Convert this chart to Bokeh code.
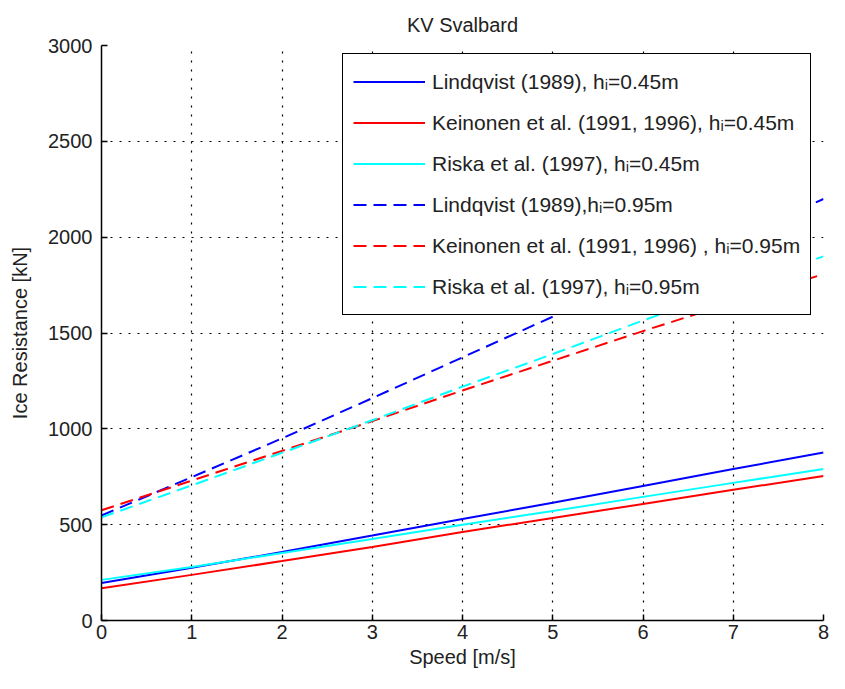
from bokeh.plotting import figure
from bokeh.models import Range1d, FixedTicker, Legend, LegendItem
from bokeh.embed import file_html
from bokeh.resources import INLINE

# ---- data ----
speed = [0, 1, 2, 3, 4, 5, 6, 7, 8]
lindqvist_045 = [196, 275, 357, 443, 530, 614, 702, 790, 876]
keinonen_045 = [168, 238, 310, 384, 462, 535, 608, 682, 754]
riska_045 = [212, 279, 352, 425, 500, 571, 645, 718, 791]
lindqvist_095 = [548, 748, 950, 1160, 1373, 1585, 1790, 1995, 2199]
keinonen_095 = [575, 730, 885, 1040, 1200, 1355, 1510, 1660, 1807]
riska_095 = [538, 705, 875, 1045, 1220, 1390, 1565, 1735, 1900]

x_ticks = [0, 1, 2, 3, 4, 5, 6, 7, 8]
y_ticks = [0, 500, 1000, 1500, 2000, 2500, 3000]

labels = [
    "Lindqvist (1989), h\u1d62=0.45m",
    "Keinonen et al. (1991, 1996), h\u1d62=0.45m",
    "Riska et al. (1997), h\u1d62=0.45m",
    "Lindqvist (1989),h\u1d62=0.95m",
    "Keinonen et al. (1991, 1996) , h\u1d62=0.95m",
    "Riska et al. (1997), h\u1d62=0.95m",
]

FONT = "Liberation Sans"

p = figure(width=829, height=673, output_backend="svg", toolbar_location=None,
           x_range=Range1d(0, 8), y_range=Range1d(0, 3000),
           min_border_left=101, min_border_right=6, min_border_top=45,
           min_border_bottom=53, title="KV Svalbard")
p.outline_line_color = None
p.background_fill_color = "white"
p.border_fill_color = "white"

p.title.align = "center"
p.title.text_font = FONT
p.title.text_font_size = "20px"
p.title.text_font_style = "normal"
p.title.text_color = "#222222"
p.title.standoff = 20

for ax in (p.xaxis[0], p.yaxis[0]):
    ax.axis_line_color = "black"
    ax.axis_line_width = 1.5
    ax.major_tick_in = 6
    ax.major_tick_out = 0
    ax.major_tick_line_color = "black"
    ax.major_tick_line_width = 1.5
    ax.minor_tick_line_color = None
    ax.major_label_text_font = FONT
    ax.major_label_text_font_size = "20px"
    ax.major_label_text_color = "#222222"
    ax.axis_label_text_font = FONT
    ax.axis_label_text_font_size = "20px"
    ax.axis_label_text_font_style = "normal"
    ax.axis_label_text_color = "#222222"

p.xaxis.ticker = FixedTicker(ticks=x_ticks)
p.yaxis.ticker = FixedTicker(ticks=y_ticks)
p.xaxis.axis_label = "Speed [m/s]"
p.yaxis.axis_label = "Ice Resistance [kN]"
p.xaxis.major_label_standoff = 4
p.xaxis.axis_label_standoff = 4
p.yaxis.major_label_standoff = 9
p.yaxis.axis_label_standoff = 14

for g in (p.xgrid[0], p.ygrid[0]):
    g.grid_line_color = "black"
    g.grid_line_width = 1.2
    g.grid_line_dash = "2 7"
    g.grid_line_alpha = 1.0

lw = 2
dash = "13 7"
r1 = p.line(speed, lindqvist_045, line_color="#0000ff", line_width=lw)
r2 = p.line(speed, keinonen_045, line_color="#ff0000", line_width=lw)
r3 = p.line(speed, riska_045, line_color="#00ffff", line_width=lw)
r4 = p.line(speed, lindqvist_095, line_color="#0000ff", line_width=lw, line_dash=dash)
r5 = p.line(speed, keinonen_095, line_color="#ff0000", line_width=lw, line_dash=dash)
r6 = p.line(speed, riska_095, line_color="#00ffff", line_width=lw, line_dash=dash)

items = [LegendItem(label=lab, renderers=[r]) for lab, r in
         zip(labels, [r1, r2, r3, r4, r5, r6])]
legend = Legend(items=items, location=(241, 305), margin=0, padding=10,
                spacing=6, glyph_width=72, glyph_height=35, label_height=35,
                label_standoff=7, label_text_font=FONT,
                label_text_font_size="21px", label_text_color="#222222",
                border_line_color="black", border_line_width=1.5,
                border_line_alpha=1.0,
                background_fill_color="white", background_fill_alpha=1.0)
p.add_layout(legend)

open("out.html", "w").write(file_html(p, INLINE))
